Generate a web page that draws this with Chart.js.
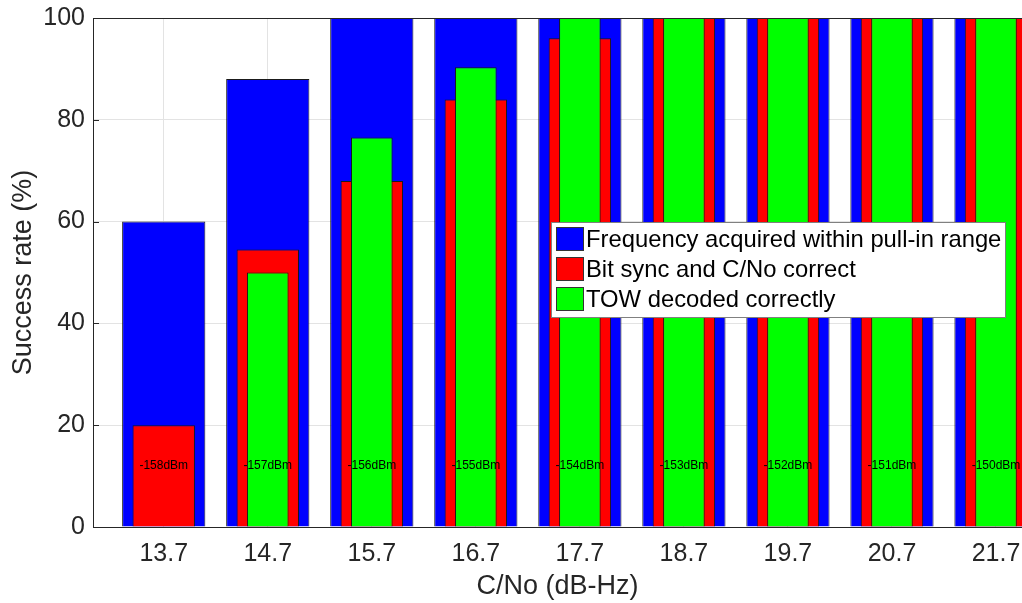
<!DOCTYPE html>
<html>
<head>
<meta charset="utf-8">
<script src="https://cdn.jsdelivr.net/npm/chart.js@4.4.1/dist/chart.umd.min.js"></script>
<style>
  body { margin: 0; background: #fff; }
  #wrap { width: 1022px; height: 603px; overflow: hidden; }
</style>
</head>
<body>
<div id="wrap"><canvas id="chart" width="1022" height="603"></canvas></div>
<script>
// C/No values (dB-Hz) and the matching received power labels
const cnoValues = [13.7, 14.7, 15.7, 16.7, 17.7, 18.7, 19.7, 20.7, 21.7];
const powerLabels = ['-158dBm', '-157dBm', '-156dBm', '-155dBm', '-154dBm', '-153dBm', '-152dBm', '-151dBm', '-150dBm'];

// success rates in %
const freqAcquired = [60, 88, 100, 100, 100, 100, 100, 100, 100];
const bitSyncOk = [20, 54.5, 68, 84, 96, 100, 100, 100, 100];
const towDecoded = [0, 50, 76.5, 90.3, 100, 100, 100, 100, 100];

const seriesNames = [
    'Frequency acquired within pull-in range',
    'Bit sync and C/No correct',
    'TOW decoded correctly'
];
const seriesColors = ['#0000ff', '#ff0000', '#00ff00'];

const labelLevel = 12; // % height where the dBm text sits
const textColor = '#262626';
const fontFamily = '"Liberation Sans", Arial, Helvetica, sans-serif';

function toPoints(values) {
    return cnoValues.map((x, i) => ({x: x, y: values[i]}));
}

const ctx = document.getElementById('chart');

// top frame line, dBm labels, inward ticks and the legend box
const extras = {
    id: 'extras',
    afterDatasetsDraw(chart) {
        const c = chart.ctx;
        const area = chart.chartArea;
        const xs = chart.scales.x;
        const ys = chart.scales.y;

        c.save();
        c.font = '12px ' + fontFamily;
        c.fillStyle = '#000';
        c.textAlign = 'center';
        c.textBaseline = 'middle';
        powerLabels.forEach((t, i) => {
            c.fillText(t, xs.getPixelForValue(cnoValues[i]), ys.getPixelForValue(labelLevel));
        });

        c.strokeStyle = textColor;
        c.lineWidth = 1;
        c.beginPath();
        c.moveTo(area.left, area.top + 0.5);
        c.lineTo(area.right, area.top + 0.5);
        [20, 40, 60, 80].forEach(v => {
            const y = Math.round(ys.getPixelForValue(v)) + 0.5;
            c.moveTo(area.left, y);
            c.lineTo(area.left + 6, y);
        });
        c.stroke();
        c.restore();
    },
    afterDraw(chart) {
        const c = chart.ctx;
        const box = {x: 551, y: 222, w: 454, h: 95};
        c.save();
        c.fillStyle = '#fff';
        c.fillRect(box.x, box.y, box.w, box.h);
        c.strokeStyle = '#808080';
        c.lineWidth = 1;
        c.strokeRect(box.x + 0.5, box.y + 0.5, box.w, box.h);

        c.font = '23.8px ' + fontFamily;
        c.textBaseline = 'middle';
        c.textAlign = 'left';
        seriesNames.forEach((name, i) => {
            const top = box.y + 5 + i * 30;
            c.fillStyle = seriesColors[i];
            c.fillRect(box.x + 5, top, 27, 23);
            c.strokeStyle = '#333';
            c.strokeRect(box.x + 5.5, top + 0.5, 27, 23);
            c.fillStyle = '#000';
            c.fillText(name, box.x + 35, top + 13);
        });
        c.restore();
    }
};

new Chart(ctx, {
    type: 'bar',
    data: {
        datasets: [
            {
                label: seriesNames[0],
                data: toPoints(freqAcquired),
                backgroundColor: seriesColors[0],
                barPercentage: 0.8,
                order: 3
            },
            {
                label: seriesNames[1],
                data: toPoints(bitSyncOk),
                backgroundColor: seriesColors[1],
                barPercentage: 0.6,
                order: 2
            },
            {
                label: seriesNames[2],
                data: toPoints(towDecoded),
                backgroundColor: seriesColors[2],
                barPercentage: 0.4,
                order: 1
            }
        ]
    },
    options: {
        responsive: false,
        animation: false,
        layout: {padding: {top: 18, right: 0, left: 0, bottom: 0}},
        datasets: {
            bar: {
                grouped: false,
                categoryPercentage: 1,
                borderColor: '#1a1a1a',
                borderWidth: 1,
                borderSkipped: 'start'
            }
        },
        scales: {
            x: {
                type: 'linear',
                offset: false,
                min: 13.02,
                max: 21.95,
                afterBuildTicks(scale) {
                    scale.ticks = cnoValues.map(v => ({value: v}));
                },
                afterFit(scale) {
                    scale.height = 76;
                    scale.paddingLeft = 0;
                    scale.paddingRight = 0;
                },
                ticks: {
                    autoSkip: false,
                    maxRotation: 0,
                    padding: 12,
                    color: textColor,
                    font: {family: fontFamily, size: 25},
                    callback: v => v.toFixed(1)
                },
                grid: {color: '#e3e3e3', drawTicks: false, offset: false},
                border: {color: textColor, width: 1},
                title: {
                    display: true,
                    text: 'C/No (dB-Hz)',
                    color: textColor,
                    font: {family: fontFamily, size: 27},
                    padding: {top: 4, bottom: 0}
                }
            },
            y: {
                min: 0,
                max: 100,
                afterFit(scale) {
                    scale.width = 93;
                    scale.paddingTop = 0;
                    scale.paddingBottom = 0;
                },
                ticks: {
                    stepSize: 20,
                    padding: 8,
                    color: textColor,
                    font: {family: fontFamily, size: 25}
                },
                grid: {color: '#e3e3e3', drawTicks: false},
                border: {color: textColor, width: 1},
                title: {
                    display: true,
                    text: 'Success rate (%)',
                    color: textColor,
                    font: {family: fontFamily, size: 27},
                    padding: {top: 7, bottom: 0}
                }
            }
        },
        plugins: {
            legend: {display: false},
            tooltip: {enabled: false}
        }
    },
    plugins: [extras]
});
</script>
</body>
</html>
